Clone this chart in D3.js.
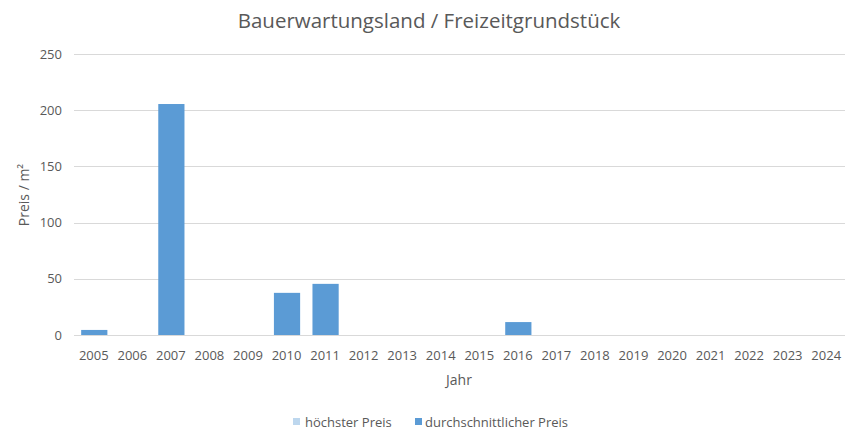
<!DOCTYPE html>
<html><head><meta charset="utf-8">
<script src="https://cdn.jsdelivr.net/npm/d3@7"></script>
<style>body{margin:0;background:#fff}svg{display:block}text{font-family:"Open Sans",sans-serif;fill:#595959}</style>
</head><body><svg id="c" width="857" height="442"></svg>
<script>
const years = ["2005","2006","2007","2008","2009","2010","2011","2012","2013","2014","2015","2016","2017","2018","2019","2020","2021","2022","2023","2024"];
const hoechsterPreis = [0,0,0,0,0,0,0,0,0,0,0,0,0,0,0,0,0,0,0,0];
const durchschnittPreis = [4.5,0,205.5,0,0,37.5,45.5,0,0,0,0,11.5,0,0,0,0,0,0,0,0];
const yTicks = [0,50,100,150,200,250];
const seriesNames = ["höchster Preis","durchschnittlicher Preis"];
const colors = ["#bdd7ee","#5b9bd5"];

const svg = d3.select("#c");
const m = {l:74, r:12, t:54, b:107};
const W = 857, H = 442;
const x = d3.scaleBand().domain(years).range([m.l, W-m.r]).paddingInner(0.32).paddingOuter(0.16);
const y = d3.scaleLinear().domain([0,250]).range([H-m.b, m.t]);

svg.append("text").attr("x",429).attr("y",28).attr("text-anchor","middle").style("font-size","20.5px").text("Bauerwartungsland / Freizeitgrundstück");

svg.append("g").selectAll("line").data(yTicks).join("line")
  .attr("x1",m.l).attr("x2",W-m.r).attr("y1",d=>Math.round(y(d))+0.5).attr("y2",d=>Math.round(y(d))+0.5)
  .attr("stroke","#d9d9d9").attr("stroke-width",1);

svg.append("g").selectAll("text").data(yTicks).join("text")
  .attr("x",62).attr("y",d=>y(d)).attr("dy","0.35em").attr("text-anchor","end").style("font-size","13px").text(d=>d);

const series = [hoechsterPreis, durchschnittPreis];
series.forEach((vals,si)=>{
  svg.append("g").selectAll("rect").data(years.map((yr,i)=>({yr,v:vals[i]})).filter(d=>d.v>0)).join("rect")
    .attr("x",d=>x(d.yr)+1).attr("width",x.bandwidth())
    .attr("y",d=>y(d.v)).attr("height",d=>y(0)-y(d.v)).attr("fill",colors[si]);
});

svg.append("g").selectAll("text").data(years).join("text")
  .attr("x",d=>x(d)+x.bandwidth()/2+0.5).attr("y",360).attr("text-anchor","middle").style("font-size","13px").text(d=>d);

svg.append("text").attr("x",459).attr("y",385).attr("text-anchor","middle").style("font-size","14px").text("Jahr");
svg.append("text").attr("transform","translate(29,195) rotate(-90)").attr("text-anchor","middle").style("font-size","14px").text("Preis / m²");

const lg = [{x:293,tx:305},{x:415,tx:425}];
seriesNames.forEach((n,i)=>{
  svg.append("rect").attr("x",lg[i].x).attr("y",418).attr("width",7).attr("height",7).attr("fill",colors[i]);
  svg.append("text").attr("x",lg[i].tx).attr("y",422).attr("dy","0.35em").style("font-size","13px").text(n);
});
</script></body></html>
